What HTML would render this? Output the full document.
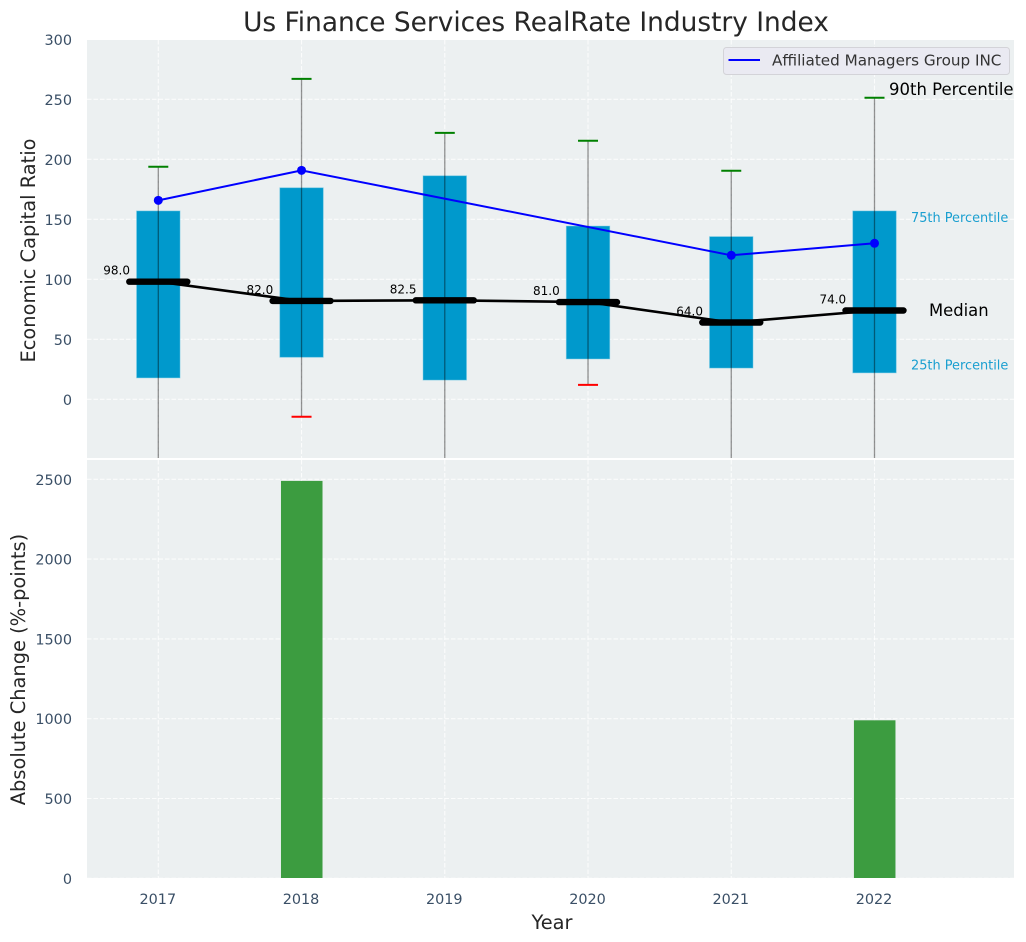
<!DOCTYPE html>
<html lang="en">
<head>
<meta charset="utf-8">
<title>Us Finance Services RealRate Industry Index</title>
<style>
html,body{margin:0;padding:0;background:#fff;width:1026px;height:942px;overflow:hidden}
svg{display:block;font-family:"DejaVu Sans","Liberation Sans",sans-serif}
</style>
</head>
<body>
<svg id="chart" xmlns="http://www.w3.org/2000/svg" width="1026" height="942" viewBox="0 0 1026 942">
  <defs>
    <clipPath id="top-clip"><rect x="87" y="40" width="927" height="418"/></clipPath>
    <clipPath id="bottom-clip"><rect x="87" y="460" width="927" height="418"/></clipPath>
  </defs>
  <rect x="87" y="40" width="927" height="418" fill="#ecf0f1"/>
  <rect x="87" y="460" width="927" height="418" fill="#ecf0f1"/>
  <g id="grid-layer"></g>
  <g id="top-layer" clip-path="url(#top-clip)"></g>
  <g id="bottom-layer" clip-path="url(#bottom-clip)"></g>
  <g id="tick-layer"></g>
  <g id="label-layer"></g>

  <text x="536" y="31" text-anchor="middle" font-size="26.4" fill="#262626">Us Finance Services RealRate Industry Index</text>
  <text transform="translate(35 250.500) rotate(-90)" text-anchor="middle" font-size="19.4" fill="#262626">Economic Capital Ratio</text>
  <text transform="translate(25 669.500) rotate(-90)" text-anchor="middle" font-size="19.4" fill="#262626">Absolute Change (%-points)</text>
  <text x="552" y="929" text-anchor="middle" font-size="19.4" fill="#262626">Year</text>

  <g>
    <rect x="723.500" y="47.500" width="286" height="27" rx="3" fill="#eaeaf2" stroke="#d3d3d8" stroke-width="1"/>
    <line x1="728.500" y1="60" x2="760" y2="60" stroke="#0000ff" stroke-width="2"/>
    <text x="772" y="65.500" font-size="15.2" fill="#333">Affiliated Managers Group INC</text>
  </g>

  <text x="889" y="95" font-size="16.5" fill="#000">90th Percentile</text>
  <text x="911" y="222" font-size="12.9" fill="#1a9fd0">75th Percentile</text>
  <text x="929" y="316" font-size="16.4" fill="#000">Median</text>
  <text x="911" y="369.500" font-size="12.9" fill="#1a9fd0">25th Percentile</text>
</svg>
<script>
var years = [2017, 2018, 2019, 2020, 2021, 2022];
var q75 = [157, 176.3, 186.3, 144.4, 135.6, 157];
var q25 = [17.8, 35, 16, 33.6, 26, 22];
var p90 = [193.8, 267, 222, 215.5, 190.5, 251.3];
var p10 = [-60, -14.5, -60, 12, -60, -60];
var medians = [98, 82, 82.5, 81, 64, 74];
var company = [165.8, 190.8, null, null, 120, 130];
var changes = [0, 2490, 0, 0, 0, 990];
var topTicks = [0, 50, 100, 150, 200, 250, 300];
var bottomTicks = [0, 500, 1000, 1500, 2000, 2500];

var NS = 'http://www.w3.org/2000/svg';
function xPos(year) { return 158.3 + (year - 2017) * 143.24; }
function yTop(v) { return 399.3 - v * 1.2; }
function yBottom(v) { return 878.3 - v * 0.1596; }
function make(parent, tag, attrs) {
  var el = document.createElementNS(NS, tag);
  for (var k in attrs) el.setAttribute(k, attrs[k]);
  parent.appendChild(el);
  return el;
}
var gridLayer = document.getElementById('grid-layer');
var topLayer = document.getElementById('top-layer');
var bottomLayer = document.getElementById('bottom-layer');
var tickLayer = document.getElementById('tick-layer');
var labelLayer = document.getElementById('label-layer');
var gridStyle = {stroke: '#ffffff', 'stroke-width': 1.1, 'stroke-dasharray': '4.5 2', 'stroke-opacity': 0.8};

function gridLine(x1, y1, x2, y2) {
  var attrs = {x1: x1, y1: y1, x2: x2, y2: y2};
  for (var k in gridStyle) attrs[k] = gridStyle[k];
  return make(gridLayer, 'line', attrs);
}

topTicks.forEach(function (t) {
  var line = gridLine(87, yTop(t), 1014, yTop(t));
  
  
  var label = make(tickLayer, 'text', {x: 72, y: yTop(t) + 5.5, 'text-anchor': 'end', 'font-size': 14.4, fill: '#3a4f66'});
  
  
  label.textContent = String(t);
});
bottomTicks.forEach(function (t) {
  var line = gridLine(87, yBottom(t), 1014, yBottom(t));
  
  
  var label = make(tickLayer, 'text', {x: 72, y: yBottom(t) + 5.5, 'text-anchor': 'end', 'font-size': 14.4, fill: '#3a4f66'});
  
  
  label.textContent = String(t);
});
years.forEach(function (year) {
  var a = gridLine(xPos(year), 40, xPos(year), 458);
  
  
  var b = gridLine(xPos(year), 460, xPos(year), 878);
  
  
  var label = make(tickLayer, 'text', {x: xPos(year) - 0.5, y: 904, 'text-anchor': 'middle', 'font-size': 14.4, fill: '#3a4f66'});
  
  
  label.textContent = String(year);
});

var boxHalf = 0.152 * 143.24;
years.forEach(function (year, i) {
  var box = make(topLayer, 'rect', {
    x: xPos(year) - boxHalf, y: yTop(q75[i]),
    width: boxHalf * 2, height: yTop(q25[i]) - yTop(q75[i]),
    fill: '#0099cc', stroke: '#7fcde6', 'stroke-width': 0.8, 'stroke-opacity': 0.6
  });
  
  
});
years.forEach(function (year, i) {
  var x = xPos(year);
  var whisker = make(topLayer, 'line', {x1: x, y1: yTop(p90[i]), x2: x, y2: yTop(p10[i]), stroke: '#000', 'stroke-width': 1.3, 'stroke-opacity': 0.42});
  
  
  var high = make(topLayer, 'line', {x1: x - 10, y1: yTop(p90[i]), x2: x + 10, y2: yTop(p90[i]), stroke: '#008000', 'stroke-width': 2});
  
  
  var low = make(topLayer, 'line', {x1: x - 10, y1: yTop(p10[i]), x2: x + 10, y2: yTop(p10[i]), stroke: '#ff0000', 'stroke-width': 2});
  
  
});

var companyPoints = [];
years.forEach(function (year, i) {
  if (company[i] !== null) companyPoints.push(xPos(year) + ',' + yTop(company[i]));
});
var companyLine = make(topLayer, 'polyline', {points: companyPoints.join(' '), fill: 'none', stroke: '#0000ff', 'stroke-width': 2});


years.forEach(function (year, i) {
  if (company[i] === null) return;
  var dot = make(topLayer, 'circle', {cx: xPos(year), cy: yTop(company[i]), r: 4.5, fill: '#0000ff'});
  
  
});

var medianPoints = years.map(function (year, i) { return xPos(year) + ',' + yTop(medians[i]); });
var medianLine = make(topLayer, 'polyline', {points: medianPoints.join(' '), fill: 'none', stroke: '#000', 'stroke-width': 2.6});


years.forEach(function (year, i) {
  var x = xPos(year);
  var bar = make(topLayer, 'line', {x1: x - 29, y1: yTop(medians[i]), x2: x + 29, y2: yTop(medians[i]), stroke: '#000', 'stroke-width': 6.4, 'stroke-linecap': 'round'});
  
  
  var label = make(labelLayer, 'text', {x: x - 28.3, y: yTop(medians[i]) - 7, 'text-anchor': 'end', 'font-size': 12, fill: '#000'});
  
  
  label.textContent = medians[i].toFixed(1);
});

var barHalf = 0.145 * 143.24;
years.forEach(function (year, i) {
  if (!changes[i]) return;
  var bar = make(bottomLayer, 'rect', {
    x: xPos(year) - barHalf + 0.2, y: yBottom(changes[i]),
    width: barHalf * 2, height: yBottom(0) - yBottom(changes[i]),
    fill: '#3c9c40'
  });
  
  
});
</script>
</body>
</html>
